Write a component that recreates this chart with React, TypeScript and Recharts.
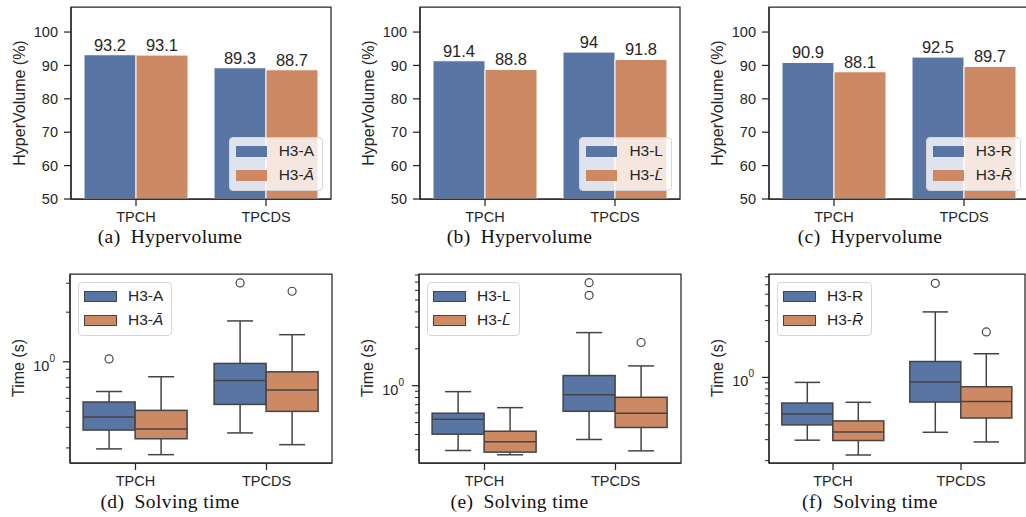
import {
  Bar,
  BarChart,
  ComposedChart,
  LabelList,
  Legend,
  ReferenceArea,
  XAxis,
  YAxis,
} from "recharts"

const BLUE = "#5975a4"
const ORANGE = "#cc8963"
const INK = "#262626"
const BOX_LINE = "#444444"
const FONT = "'Liberation Sans', Arial, sans-serif"
const SERIF = "'Liberation Serif', 'DejaVu Serif', serif"

const categories = ["TPCH", "TPCDS"]

// hypervolume (%) per category
const hvA = [93.2, 89.3]
const hvABar = [93.1, 88.7]
const hvL = [91.4, 94]
const hvLBar = [88.8, 91.8]
const hvR = [90.9, 92.5]
const hvRBar = [88.1, 89.7]
const hvTicks = [50, 60, 70, 80, 90, 100]
const hvDomain = [50, 107.5]

// solving time (s): [low whisker, q1, median, q3, high whisker] per category
const timeA = [[0.296, 0.385, 0.462, 0.57, 0.66], [0.37, 0.551, 0.77, 0.977, 1.77]]
const timeAOut = [[1.04], [3.01]]
const timeABar = [[0.273, 0.341, 0.391, 0.507, 0.811], [0.314, 0.5, 0.673, 0.869, 1.46]]
const timeABarOut = [[], [2.68]]
const timeL = [[0.296, 0.402, 0.532, 0.596, 0.894], [0.364, 0.618, 0.845, 1.21, 2.71]]
const timeLOut = [[], [6.92, 5.46]]
const timeLBar = [[0.273, 0.287, 0.348, 0.425, 0.662], [0.294, 0.456, 0.596, 0.804, 1.45]]
const timeLBarOut = [[], [2.25]]
const timeR = [[0.297, 0.399, 0.493, 0.609, 0.908], [0.346, 0.621, 0.914, 1.36, 3.55]]
const timeROut = [[], [6.17]]
const timeRBar = [[0.223, 0.295, 0.348, 0.431, 0.618], [0.287, 0.456, 0.629, 0.835, 1.58]]
const timeRBarOut = [[], [2.41]]

const ticksD = [0.3, 0.4, 0.5, 0.6, 0.7, 0.8, 0.9, 1, 2, 3]
const ticksE = [0.3, 0.4, 0.5, 0.6, 0.7, 0.8, 0.9, 1, 2, 3, 4, 5, 6, 7, 8]
const ticksF = [0.2, 0.3, 0.4, 0.5, 0.6, 0.7, 0.8, 0.9, 1, 2, 3, 4, 5, 6, 7]

function Name({ base, letter, bar }: { base: string; letter: string; bar: boolean }) {
  if (!bar) return <span>{base + letter}</span>
  return (
    <span>
      {base}
      <i>{letter + "\u0304"}</i>
    </span>
  )
}

function LegendBox({ letter, boxed }: { letter: string; boxed: boolean }) {
  const patch = (color: string) => (
    <span
      style={{
        display: "inline-block",
        width: boxed ? 33 : 31,
        height: 11,
        background: color,
        border: boxed ? `1.5px solid ${BOX_LINE}` : "none",
        marginRight: boxed ? 11 : 12,
        boxSizing: "border-box",
      }}
    />
  )
  return (
    <div
      style={{
        background: "rgba(255,255,255,0.8)",
        border: "1px solid #d6d6d6",
        borderRadius: 4,
        padding: boxed ? "1px 8px 3px 5px" : "1px 8px 3px 6px",
        fontFamily: FONT,
        fontSize: 15.5,
        color: INK,
        lineHeight: "24px",
      }}
    >
      <div style={{ display: "flex", alignItems: "center", height: 24 }}>
        {patch(BLUE)}
        <Name base="H3-" letter={letter} bar={false} />
      </div>
      <div style={{ display: "flex", alignItems: "center", height: 24 }}>
        {patch(ORANGE)}
        <Name base="H3-" letter={letter} bar={true} />
      </div>
    </div>
  )
}

function HvPanel({ left, a, b, letter }: { left: number; a: number[]; b: number[]; letter: string }) {
  const data = categories.map((cat, i) => ({ cat, a: a[i], b: b[i] }))
  return (
    <div style={{ position: "absolute", left, top: 0 }}>
      <BarChart
        width={332}
        height={229}
        data={data}
        margin={{ top: 7, right: 2, bottom: 0, left: 0 }}
        barCategoryGap="10%"
        barGap={0}
      >
        <XAxis
          dataKey="cat"
          height={30}
          tick={{ fontSize: 14.5, fill: INK, fontFamily: FONT }}
          tickSize={7}
          tickMargin={6}
          axisLine={{ stroke: INK, strokeWidth: 1.25 }}
          tickLine={{ stroke: INK, strokeWidth: 1.25 }}
        />
        <YAxis
          width={70}
          domain={hvDomain}
          ticks={hvTicks}
          allowDataOverflow
          tick={{ fontSize: 14.5, fill: INK, fontFamily: FONT }}
          tickSize={7}
          tickMargin={6}
          axisLine={{ stroke: INK, strokeWidth: 1.25 }}
          tickLine={{ stroke: INK, strokeWidth: 1.25 }}
        />
        <Bar dataKey="a" fill={BLUE} stroke="#fff" strokeWidth={1} isAnimationActive={false}>
          <LabelList dataKey="a" position="top" offset={4} fill={INK} fontSize={16.5} fontFamily={FONT} />
        </Bar>
        <Bar dataKey="b" fill={ORANGE} stroke="#fff" strokeWidth={1} isAnimationActive={false}>
          <LabelList dataKey="b" position="top" offset={4} fill={INK} fontSize={16.5} fontFamily={FONT} />
        </Bar>
        <ReferenceArea y1={hvDomain[0]} y2={hvDomain[1]} fill="none" stroke={INK} strokeWidth={1.25} />
        <Legend
          layout="horizontal"
          verticalAlign="middle"
          align="center"
          wrapperStyle={{ left: "auto", top: "auto", right: 10, bottom: 38, width: "auto", height: "auto" }}
          content={() => <LegendBox letter={letter} boxed={false} />}
        />
      </BarChart>
    </div>
  )
}

function LogTick(props: any) {
  const { x, y, payload } = props
  const major = payload.value === 1
  return (
    <g>
      <line x1={x} x2={x - (major ? 7 : 4)} y1={y} y2={y} stroke={INK} strokeWidth={major ? 1.25 : 1} />
      {major && (
        <text x={x - 15} y={y + 9} textAnchor="end" fontSize={14.5} fill={INK} fontFamily={FONT}>
          10
          <tspan dy={-9} fontSize={10}>
            0
          </tspan>
        </text>
      )}
    </g>
  )
}

function boxShape(key: string, outKey: string, color: string) {
  return (props: any) => {
    const { x, y, width, height, payload } = props
    const [lo, q1, med, q3, hi] = payload[key]
    const outs: number[] = payload[outKey]
    // log scale is linear in log space: place every statistic from the whisker anchors
    const py = (v: number) => y + (height * (Math.log(hi) - Math.log(v))) / (Math.log(hi) - Math.log(lo))
    const cx = x + width / 2
    const cap = width / 4
    const line = { stroke: BOX_LINE, strokeWidth: 1.5 }
    return (
      <g>
        <line x1={cx} x2={cx} y1={py(hi)} y2={py(q3)} {...line} />
        <line x1={cx} x2={cx} y1={py(q1)} y2={py(lo)} {...line} />
        <line x1={cx - cap} x2={cx + cap} y1={py(hi)} y2={py(hi)} {...line} />
        <line x1={cx - cap} x2={cx + cap} y1={py(lo)} y2={py(lo)} {...line} />
        <rect x={x} y={py(q3)} width={width} height={py(q1) - py(q3)} fill={color} {...line} />
        <line x1={x} x2={x + width} y1={py(med)} y2={py(med)} {...line} />
        {outs.map((v, i) => (
          <circle key={i} cx={cx} cy={py(v)} r={4} fill="none" stroke={BOX_LINE} strokeWidth={1.2} />
        ))}
      </g>
    )
  }
}

type BoxStats = number[][]

function TimePanel({
  left,
  plotWidth,
  a,
  aOut,
  b,
  bOut,
  domain,
  ticks,
  letter,
}: {
  left: number
  plotWidth: number
  a: BoxStats
  aOut: number[][]
  b: BoxStats
  bOut: number[][]
  domain: number[]
  ticks: number[]
  letter: string
}) {
  const data = categories.map((cat, i) => ({ cat, a: a[i], aOut: aOut[i], b: b[i], bOut: bOut[i] }))
  return (
    <div style={{ position: "absolute", left, top: 267 }}>
      <ComposedChart
        width={70 + plotWidth + 2}
        height={226}
        data={data}
        margin={{ top: 7, right: 2, bottom: 0, left: 0 }}
        barCategoryGap="10%"
        barGap={0}
      >
        <XAxis
          dataKey="cat"
          height={30}
          tick={{ fontSize: 14.5, fill: INK, fontFamily: FONT }}
          tickSize={7}
          tickMargin={6}
          axisLine={{ stroke: INK, strokeWidth: 1.25 }}
          tickLine={{ stroke: INK, strokeWidth: 1.25 }}
        />
        <YAxis
          width={70}
          scale="log"
          domain={domain}
          ticks={ticks}
          interval={0}
          allowDataOverflow
          tick={<LogTick />}
          tickSize={0}
          tickMargin={0}
          tickLine={false}
          axisLine={{ stroke: INK, strokeWidth: 1.25 }}
        />
        <Bar
          dataKey={(d: any) => [d.a[0], d.a[4]]}
          fill={BLUE}
          shape={boxShape("a", "aOut", BLUE)}
          isAnimationActive={false}
        />
        <Bar
          dataKey={(d: any) => [d.b[0], d.b[4]]}
          fill={ORANGE}
          shape={boxShape("b", "bOut", ORANGE)}
          isAnimationActive={false}
        />
        <ReferenceArea y1={domain[0]} y2={domain[1]} fill="none" stroke={INK} strokeWidth={1.25} />
        <Legend
          layout="horizontal"
          verticalAlign="middle"
          align="center"
          wrapperStyle={{ left: 78, top: 15, width: "auto", height: "auto" }}
          content={() => <LegendBox letter={letter} boxed={true} />}
        />
      </ComposedChart>
    </div>
  )
}

const yTitles = [
  { x: 19, y: 103, text: "HyperVolume (%)" },
  { x: 368, y: 103, text: "HyperVolume (%)" },
  { x: 717, y: 103, text: "HyperVolume (%)" },
  { x: 18, y: 368, text: "Time (s)" },
  { x: 367, y: 368, text: "Time (s)" },
  { x: 717, y: 368, text: "Time (s)" },
]

const captions = [
  { x: 170, y: 243, text: "(a)\u2002Hypervolume" },
  { x: 519.5, y: 243, text: "(b)\u2002Hypervolume" },
  { x: 870, y: 243, text: "(c)\u2002Hypervolume" },
  { x: 170, y: 508, text: "(d)\u2002Solving time" },
  { x: 519.5, y: 508, text: "(e)\u2002Solving time" },
  { x: 870, y: 508, text: "(f)\u2002Solving time" },
]

export default function App() {
  return (
    <div style={{ position: "relative", width: 1026, height: 517, overflow: "hidden", background: "#fff" }}>
      <style>{"body{margin:0}"}</style>
      <HvPanel left={1} a={hvA} b={hvABar} letter="A" />
      <HvPanel left={350} a={hvL} b={hvLBar} letter="L" />
      <HvPanel left={699} a={hvR} b={hvRBar} letter="R" />
      <TimePanel left={0} plotWidth={262} a={timeA} aOut={timeAOut} b={timeABar} bOut={timeABarOut} domain={[0.243, 3.41]} ticks={ticksD} letter="A" />
      <TimePanel left={349} plotWidth={262} a={timeL} aOut={timeLOut} b={timeLBar} bOut={timeLBarOut} domain={[0.234, 8.15]} ticks={ticksE} letter="L" />
      <TimePanel left={699} plotWidth={256} a={timeR} aOut={timeROut} b={timeRBar} bOut={timeRBarOut} domain={[0.191, 7.39]} ticks={ticksF} letter="R" />
      <svg width={1026} height={517} style={{ position: "absolute", left: 0, top: 0, pointerEvents: "none" }}>
        {yTitles.map((t, i) => (
          <text
            key={i}
            x={t.x}
            y={t.y}
            transform={`rotate(-90 ${t.x} ${t.y})`}
            textAnchor="middle"
            dominantBaseline="central"
            fontSize={16}
            fill={INK}
            fontFamily={FONT}
          >
            {t.text}
          </text>
        ))}
        {captions.map((c, i) => (
          <text
            key={i}
            x={c.x}
            y={c.y}
            textAnchor="middle"
            fontSize={19.5}
            letterSpacing={0.4}
            fill="#111"
            fontFamily={SERIF}
          >
            {c.text}
          </text>
        ))}
      </svg>
    </div>
  )
}
